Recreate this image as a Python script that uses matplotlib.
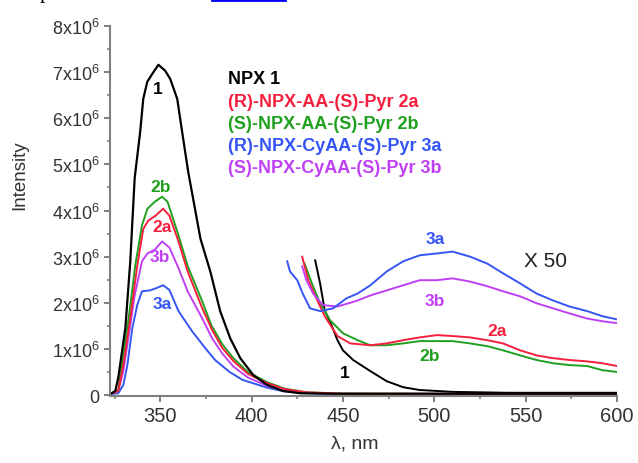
import numpy as np
import matplotlib
matplotlib.use('Agg')
import matplotlib.pyplot as plt
from matplotlib.ticker import MultipleLocator, FuncFormatter
from matplotlib.lines import Line2D

plt.rcParams['font.family'] = ['Liberation Sans', 'DejaVu Sans']
plt.rcParams['mathtext.fontset'] = 'custom'
plt.rcParams['mathtext.rm'] = 'Liberation Sans'

# ---- main emission spectra (intensity in units of 1e6) ----
wl_1 = [322.5, 325.4, 327.0, 330.9, 333.6, 336.0, 339.0, 340.7, 342.9, 345.6, 349.0, 352.7, 355.5,
        359.3, 362.0, 365.3, 372.0, 377.4, 382.8, 388.3, 393.8, 401.0, 408.5, 417.0, 426.6, 445, 480, 540, 600]
int_1 = [0.02, 0.09, 0.37, 1.45, 2.9, 4.7, 5.7, 6.42, 6.79, 6.96, 7.16, 7.03, 6.85,
         6.42, 5.7, 4.84, 3.39, 2.68, 1.82, 1.23, 0.8, 0.43, 0.22, 0.09, 0.04, 0.03, 0.03, 0.03, 0.03]

wl_2a = [322.5, 327, 329.8, 333.6, 337.4, 340.7, 343.4, 347.5, 351.6, 355, 360, 365, 373, 378.4,
         384, 390, 398, 408.5, 418, 430, 450, 600]
int_2a = [0.02, 0.09, 0.65, 1.66, 2.8, 3.6, 3.78, 3.89, 4.04, 3.89, 3.33, 2.68, 1.88, 1.41,
          1.02, 0.74, 0.46, 0.26, 0.13, 0.06, 0.03, 0.02]

wl_2b = [322.5, 327, 329, 332.5, 336.3, 340, 343, 347, 351, 354, 360, 365, 373, 378,
         384, 390, 398, 408.5, 418, 430, 450, 600]
int_2b = [0.02, 0.09, 0.65, 1.6, 2.8, 3.68, 4.04, 4.19, 4.3, 4.19, 3.46, 2.8, 2.03, 1.51,
          1.1, 0.8, 0.5, 0.28, 0.14, 0.06, 0.03, 0.02]

wl_3a = [322.5, 327, 329.8, 332, 334.7, 337.4, 340, 344.5, 348, 351.6, 355, 360, 367.5, 374.6,
         380, 388, 395, 408.5, 418, 430, 450, 600]
int_3a = [0.02, 0.04, 0.22, 0.65, 1.45, 1.95, 2.25, 2.27, 2.32, 2.38, 2.28, 1.82, 1.38, 1.02,
          0.76, 0.5, 0.33, 0.16, 0.08, 0.04, 0.02, 0.02]

wl_3b = [322.5, 327, 329.8, 332.5, 336, 340, 343, 347, 351, 355, 360, 365, 373, 378.4,
         384, 390, 398, 408.5, 418, 430, 450, 600]
int_3b = [0.02, 0.09, 0.52, 1.23, 2.16, 2.9, 3.07, 3.15, 3.33, 3.2, 2.75, 2.25, 1.66, 1.23,
          0.9, 0.62, 0.38, 0.2, 0.1, 0.05, 0.02, 0.02]

# ---- X 50 magnified tails (already multiplied, units of 1e6) ----
wl_1_x50 = [434.8, 437.5, 440, 444, 447, 450, 455.6, 465, 474, 483, 492, 510, 540, 570, 600]
int_1_x50 = [2.92, 2.42, 1.84, 1.49, 1.19, 0.97, 0.76, 0.52, 0.3, 0.17, 0.11, 0.07, 0.05, 0.05, 0.05]

wl_2a_x50 = [427.7, 431, 436, 440, 447, 454, 465, 474, 483, 492, 501.5, 510, 519.6, 529, 537.6,
             547, 556, 565, 574, 583.6, 592, 600]
int_2a_x50 = [3.0, 2.49, 2.05, 1.71, 1.28, 1.12, 1.08, 1.12, 1.19, 1.25, 1.3, 1.28, 1.25, 1.19, 1.12,
              0.97, 0.86, 0.8, 0.76, 0.73, 0.69, 0.63]

wl_2b_x50 = [429, 433, 437.5, 443, 450, 458, 465, 474, 483, 492, 501.5, 510, 519.6, 529, 537.6,
             547, 556, 565, 574, 583.6, 592, 600]
int_2b_x50 = [2.85, 2.42, 1.99, 1.62, 1.34, 1.19, 1.08, 1.08, 1.12, 1.17, 1.17, 1.17, 1.12, 1.06, 0.97,
              0.86, 0.76, 0.69, 0.65, 0.63, 0.54, 0.5]

wl_3a_x50 = [419.5, 421, 425, 428, 432, 437.5, 444.6, 452, 458, 465, 474, 483, 492, 501.5, 510,
             519.6, 529, 537.6, 547, 556, 565, 574, 583.6, 592, 600]
int_3a_x50 = [2.9, 2.68, 2.49, 2.2, 1.88, 1.82, 1.88, 2.1, 2.2, 2.38, 2.68, 2.9, 3.03, 3.07, 3.11,
              3.0, 2.85, 2.64, 2.42, 2.2, 2.05, 1.92, 1.82, 1.71, 1.64]

wl_3b_x50 = [427.7, 430, 433.7, 439, 447, 454, 458, 465, 474, 483, 492, 501.5, 510, 519.6, 529,
             537.6, 547, 556, 565, 574, 583.6, 592, 600]
int_3b_x50 = [2.79, 2.49, 2.2, 1.95, 1.92, 2.0, 2.05, 2.16, 2.27, 2.38, 2.49, 2.49, 2.53, 2.46, 2.36,
              2.25, 2.14, 1.99, 1.88, 1.77, 1.66, 1.6, 1.56]

legend_names = ['NPX 1', '(R)-NPX-AA-(S)-Pyr 2a', '(S)-NPX-AA-(S)-Pyr 2b',
                '(R)-NPX-CyAA-(S)-Pyr 3a', '(S)-NPX-CyAA-(S)-Pyr 3b']
colors = {'1': '#000000', '2a': '#f5203e', '2b': '#1fa01f', '3a': '#3555f5', '3b': '#c040f5'}

fig = plt.figure(figsize=(6.38, 4.64), dpi=100)
ax = fig.add_axes([110/638, 1 - 397/464, 507/638, 370/464])

# main curves: drawn back to front
main = [('3a', wl_3a, int_3a), ('3b', wl_3b, int_3b), ('2b', wl_2b, int_2b),
        ('2a', wl_2a, int_2a), ('1', wl_1, int_1)]
for key, w, i in main:
    ax.plot(w, np.array(i) * 1e6, color=colors[key], lw=1.4 if key != '1' else 1.6)

tails = [('1', wl_1_x50, int_1_x50), ('2b', wl_2b_x50, int_2b_x50), ('2a', wl_2a_x50, int_2a_x50),
         ('3b', wl_3b_x50, int_3b_x50), ('3a', wl_3a_x50, int_3a_x50)]
for key, w, i in tails:
    ax.plot(w, np.array(i) * 1e6, color=colors[key], lw=1.4)

# curve labels
lab_kw = dict(fontsize=12.5, fontweight='bold', ha='center', va='center')
ax.text(348.9, 6.64e6, '1', color=colors['1'], **lab_kw)
ax.text(350.0, 4.52e6, '2b', color=colors['2b'], **lab_kw)
ax.text(351.0, 3.65e6, '2a', color=colors['2a'], **lab_kw)
ax.text(350.0, 3.0e6, '3b', color=colors['3b'], **lab_kw)
ax.text(351.0, 1.99e6, '3a', color=colors['3a'], **lab_kw)
ax.text(500.4, 3.39e6, '3a', color=colors['3a'], **lab_kw)
ax.text(500.4, 2.05e6, '3b', color=colors['3b'], **lab_kw)
ax.text(534.3, 1.41e6, '2a', color=colors['2a'], **lab_kw)
ax.text(497.7, 0.86e6, '2b', color=colors['2b'], **lab_kw)
ax.text(451.2, 0.48e6, '1', color=colors['1'], **lab_kw)
ax.text(560.6, 2.92e6, 'X 50', color='#222222', fontsize=15, ha='center', va='center')

# legend as coloured text
for n, (name, key) in enumerate(zip(legend_names, ['1', '2a', '2b', '3a', '3b'])):
    ax.text((228 - 110) / 507, (397 - 80 - 22.2 * n) / 370, name, transform=ax.transAxes,
            color=colors[key], fontsize=13, fontweight='bold', ha='left', va='center')

ax.set_xlim(322.5, 600)
ax.set_ylim(-0.02e6, 8e6)
ax.xaxis.set_major_locator(MultipleLocator(50))
ax.xaxis.set_minor_locator(MultipleLocator(25))
ax.yaxis.set_major_locator(MultipleLocator(1e6))
ax.yaxis.set_minor_locator(MultipleLocator(0.5e6))
ax.yaxis.set_major_formatter(FuncFormatter(
    lambda v, p: '0' if abs(v) < 1 else '%dx10$^{6}$' % round(v / 1e6)))

for s in ['top', 'right']:
    ax.spines[s].set_visible(False)
for s in ['left', 'bottom']:
    ax.spines[s].set_color('#808080')
    ax.spines[s].set_linewidth(1.5)
ax.tick_params(which='major', length=4.5, width=1.4, color='#808080', labelcolor='#333333', pad=3)
ax.tick_params(which='minor', length=2.5, width=1.2, color='#808080')
ax.tick_params(axis='x', labelsize=14.5)
ax.tick_params(axis='y', labelsize=13)

ax.set_xlabel('λ, nm', fontsize=14, color='#333333')
ax.xaxis.set_label_coords(0.483, -0.105)
ax.set_ylabel('Intensity', fontsize=13.5, color='#333333')
ax.yaxis.set_label_coords(-0.162, 0.6)

# remnants of the page text cut off above the figure
fig.text(40 / 638, 1 + 1.5 / 464, 'p', family='Liberation Serif', fontsize=16, va='baseline')
fig.add_artist(Line2D([212 / 638, 285 / 638], [1 - 1 / 464, 1 - 1 / 464], color='#0000ff',
                      lw=2, transform=fig.transFigure))

fig.savefig('out.png', dpi=100)
